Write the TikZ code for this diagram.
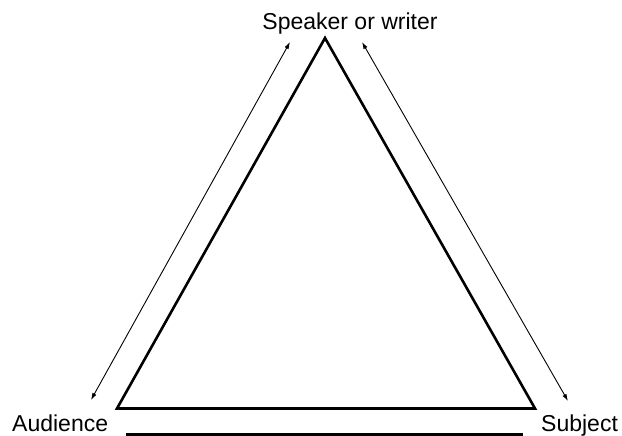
\documentclass[tikz,border=0pt]{standalone}
\usepackage{fontspec}
\setmainfont{Liberation Sans}
\usetikzlibrary{arrows.meta}
\begin{document}
\begin{tikzpicture}[x=1pt,y=-1pt,
  lbl/.style={inner sep=0pt,font=\fontsize{23}{27}\selectfont},
  tri/.style={line width=2.6pt,line join=miter},
  twoway/.style={line width=0.9pt,{Latex[length=7pt,width=4.5pt]}-{Latex[length=7pt,width=4.5pt]}}]
\useasboundingbox (0,0) rectangle (622,436);
\fill[white] (0,0) rectangle (622,436);
% labels
\node[lbl,anchor=base] (spk) at (350,30) {Speaker or writer};
\node[lbl,anchor=base west] (aud) at (12,431.5) {Audience};
\node[lbl,anchor=base west] (sub) at (541,431.5) {Subject};
% triangle
\coordinate (apex) at (325,38);
\coordinate (bl) at (117,408.5);
\coordinate (br) at (535,408.5);
\draw[tri] (apex) -- (bl) -- (br) -- cycle;
% arrows
\coordinate (la) at (290,42);
\coordinate (lb) at (91,400);
\coordinate (ra) at (362,42);
\coordinate (rb) at (568,401);
\draw[twoway] (la) -- (lb);
\draw[twoway] (ra) -- (rb);
% bottom line
\coordinate (ul) at (126,434.5);
\coordinate (ur) at (523,434.5);
\draw[line width=2.5pt] (ul) -- (ur);
\end{tikzpicture}
\end{document}
